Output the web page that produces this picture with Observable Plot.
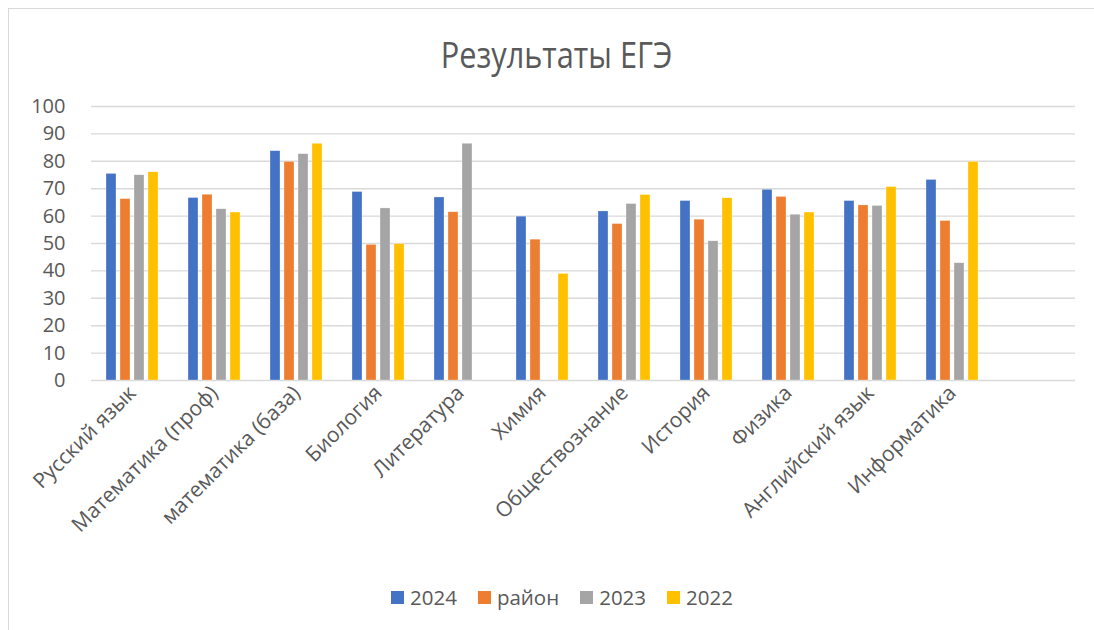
<!DOCTYPE html>
<html>
<head>
<meta charset="utf-8">
<script src="https://cdn.jsdelivr.net/npm/d3@7"></script>
<script src="https://cdn.jsdelivr.net/npm/@observablehq/plot@0.6"></script>
<style>
  html, body { margin: 0; padding: 0; background: #fff; }
  #wrap { position: relative; width: 1094px; height: 630px; overflow: hidden; font-family: "Open Sans", sans-serif; }
  #frame { position: absolute; left: 8px; top: 8px; width: 1100px; height: 640px; border-top: 1.5px solid #d9d9d9; border-left: 1.5px solid #d9d9d9; box-sizing: border-box; }
  #title { position: absolute; left: 0; width: 1113px; top: 28px; text-align: center; font-size: 37px; color: #595959; font-weight: 400; }
  #title span { display: inline-block; transform: scaleX(0.83); transform-origin: center; }
  #chart { position: absolute; left: 0; top: 0; }
  #legend { position: absolute; left: 391px; top: 583px; display: flex; align-items: center; font-size: 20.5px; color: #595959; }
  #legend .item { display: flex; align-items: center; margin-right: 21px; }
  #legend .sw { width: 13px; height: 13px; margin-right: 6px; }
</style>
</head>
<body>
<div id="wrap">
  <div id="frame"></div>
  <div id="chart"></div>
  <div id="title"><span>Результаты ЕГЭ</span></div>
  <div id="legend"></div>
</div>
<script>
const subjects = ["Русский язык", "Математика (проф)", "математика (база)", "Биология", "Литература", "Химия", "Обществознание", "История", "Физика", "Английский язык", "Информатика"];
const emptySlot = " ";
const seriesNames = ["2024", "район", "2023", "2022"];
const colors = ["#4472C4", "#ED7D31", "#A5A5A5", "#FFC000"];
const v2024  = [75.4, 66.6, 83.7, 68.8, 66.8, 59.8, 61.7, 65.5, 69.6, 65.5, 73.2];
const vRayon = [66.2, 67.8, 79.8, 49.5, 61.4, 51.4, 57.1, 58.7, 67.0, 63.9, 58.2];
const v2023  = [74.9, 62.5, 82.6, 62.8, 86.4, null, 64.4, 50.8, 60.5, 63.7, 42.8];
const v2022  = [76.0, 61.3, 86.4, 49.8, null, 38.9, 67.7, 66.5, 61.3, 70.6, 79.8];
const yTicks = [0, 10, 20, 30, 40, 50, 60, 70, 80, 90, 100];

const slots = [...subjects, emptySlot];
const seriesValues = [v2024, vRayon, v2023, v2022];
const data = [];
subjects.forEach((s, i) => {
  seriesNames.forEach((n, j) => {
    const v = seriesValues[j][i];
    if (v != null) data.push({subject: s, series: n, value: v});
  });
});
const gridRows = [];
slots.forEach(s => yTicks.forEach(t => gridRows.push({subject: s, tick: t})));

const plot = Plot.plot({
  width: 1094,
  height: 560,
  marginTop: 106,
  marginBottom: 180,
  marginLeft: 88,
  marginRight: 16,
  style: {fontFamily: "'Open Sans', sans-serif", background: "transparent"},
  fx: {domain: slots, padding: 0, label: null, axis: null},
  x: {domain: seriesNames, paddingInner: 0.27, paddingOuter: 0.88, axis: null},
  y: {domain: [0, 100], label: null},
  color: {domain: seriesNames, range: colors},
  marks: [
    Plot.ruleY(gridRows, {fx: "subject", y: "tick", stroke: "#d9d9d9", strokeWidth: 1.4}),
    Plot.barY(data, {fx: "subject", x: "series", y: "value", fill: "series", stroke: "#fff", strokeWidth: 0.5, strokeOpacity: 0.6}),
    Plot.axisY(yTicks, {tickSize: 0, tickPadding: 26, fontSize: 20, fill: "#595959", label: null}),
    Plot.axisFx({anchor: "bottom", tickSize: 0, tickPadding: 9, tickRotate: -45, fontSize: 21, fill: "#595959", label: null})
  ]
});
document.getElementById("chart").appendChild(plot);

const legend = document.getElementById("legend");
seriesNames.forEach((n, j) => {
  const item = document.createElement("div");
  item.className = "item";
  const sw = document.createElement("div");
  sw.className = "sw";
  sw.style.background = colors[j];
  const t = document.createElement("span");
  t.textContent = n;
  item.appendChild(sw);
  item.appendChild(t);
  legend.appendChild(item);
});
</script>
</body>
</html>
